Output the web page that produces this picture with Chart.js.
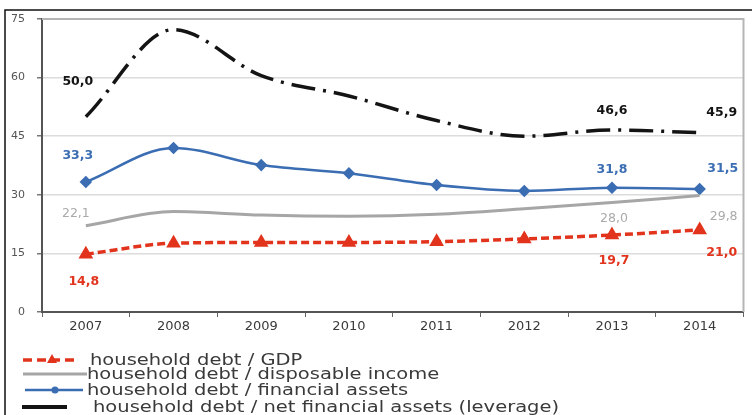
<!DOCTYPE html>
<html>
<head>
<meta charset="utf-8">
<script src="https://cdn.jsdelivr.net/npm/chart.js@4"></script>
<style>
  html, body { margin: 0; padding: 0; background: #fff; }
  #wrap { position: relative; width: 752px; height: 415px; }
</style>
</head>
<body>
<div id="wrap"><canvas id="chart" width="752" height="415"></canvas></div>
<script>
// years
const years = ["2007", "2008", "2009", "2010", "2011", "2012", "2013", "2014"];

// series values
const debtGdp = [14.8, 17.6, 17.8, 17.8, 18.0, 18.7, 19.7, 21.0];
const debtIncome = [22.1, 25.7, 24.8, 24.5, 25.0, 26.4, 28.0, 29.8];
const debtFinAssets = [33.3, 42.0, 37.6, 35.5, 32.5, 31.0, 31.8, 31.5];
const debtLeverage = [50.0, 72.3, 60.5, 55.3, 49.0, 45.0, 46.6, 45.9];

// y axis ticks
const yTicks = [0, 15, 30, 45, 60, 75];

// series names
const names = [
  "household debt / GDP",
  "household debt / disposable income",
  "household debt / financial assets",
  "household debt / net financial assets (leverage)"
];

const RED = "#e2341d";
const GRAY = "#a6a6a6";
const BLUE = "#3b6db3";
const BLACK = "#141414";

// value labels: which points, and where to put them
const valueLabels = [
  { ds: 0, color: RED, bold: true, at: [[0, -2, 28], [6, 2, 26], [7, 22, 23]] },
  { ds: 1, color: "#aaaaaa", bold: false, at: [[0, -10, -12], [6, 2, 16], [7, 24, 21]] },
  { ds: 2, color: BLUE, bold: true, at: [[0, -8, -26], [6, 0, -18], [7, 23, -20]] },
  { ds: 3, color: BLACK, bold: true, at: [[0, -8, -35], [6, 0, -19], [7, 22, -20]] }
];

// legend marker layout
const legendRows = [
  { y: 360, x0: 23, x1: 78, tx: 90, mark: 52 },
  { y: 374, x0: 23, x1: 87, tx: 87 },
  { y: 390, x0: 25, x1: 83, tx: 87, mark: 55 },
  { y: 407, x0: 22, x1: 67, tx: 93 }
];

// plugin: frame, labels, legend
const extras = {
  id: "extras",
  beforeDatasetsDraw(chart) {
    const c = chart.ctx;
    const a = chart.chartArea;
    c.save();
    c.strokeStyle = "#b5b5b5";
    c.lineWidth = 2;
    c.beginPath();
    c.moveTo(a.left, a.top);
    c.lineTo(a.right, a.top);
    c.lineTo(a.right, a.bottom);
    c.stroke();
    c.restore();
  },
  afterDraw(chart) {
    const c = chart.ctx;
    const x = chart.scales.x;
    const y = chart.scales.y;
    c.save();

    // outer frame
    c.strokeStyle = "#111";
    c.lineWidth = 1.5;
    c.beginPath();
    c.moveTo(752, 10);
    c.lineTo(5, 10);
    c.lineTo(5, 415);
    c.stroke();

    // value labels
    c.textAlign = "center";
    c.textBaseline = "middle";
    valueLabels.forEach(function (vl) {
      const data = chart.data.datasets[vl.ds].data;
      c.fillStyle = vl.color;
      c.font = (vl.bold ? "bold " : "") + "12.5px 'DejaVu Sans'";
      vl.at.forEach(function (p) {
        const v = data[p[0]];
        c.fillText(v.toFixed(1).replace(".", ","),
          x.getPixelForValue(p[0]) + p[1], y.getPixelForValue(v) + p[2]);
      });
    });

    // legend
    c.textAlign = "left";
    c.font = "15px 'DejaVu Sans'";
    chart.data.datasets.forEach(function (ds, i) {
      const r = legendRows[i];
      c.strokeStyle = ds.borderColor;
      c.lineWidth = i === 3 ? 4 : ds.borderWidth;
      c.setLineDash(i === 0 ? [9, 5] : []);
      c.beginPath();
      c.moveTo(r.x0, r.y);
      c.lineTo(r.x1, r.y);
      c.stroke();
      c.setLineDash([]);
      c.fillStyle = ds.borderColor;
      if (i === 0) {
        c.beginPath();
        c.moveTo(r.mark, r.y - 6);
        c.lineTo(r.mark + 5, r.y + 3);
        c.lineTo(r.mark - 5, r.y + 3);
        c.closePath();
        c.fill();
      }
      if (i === 2) {
        c.beginPath();
        c.arc(r.mark, r.y, 3.5, 0, Math.PI * 2);
        c.fill();
      }
      c.fillStyle = "#3a3a3a";
      c.save();
      c.translate(r.tx, r.y + 1);
      c.scale(1.3, 1);
      c.fillText(names[i], 0, 0);
      c.restore();
    });
    c.restore();
  }
};

const ctx = document.getElementById("chart");

new Chart(ctx, {
  type: "line",
  data: {
    labels: years,
    datasets: [
      {
        label: names[0],
        data: debtGdp,
        borderColor: RED,
        backgroundColor: RED,
        borderWidth: 3.5,
        borderDash: [8, 4],
        pointStyle: "triangle",
        pointRadius: 5,
        cubicInterpolationMode: "monotone"
      },
      {
        label: names[1],
        data: debtIncome,
        borderColor: GRAY,
        backgroundColor: GRAY,
        borderWidth: 3,
        pointRadius: 0,
        cubicInterpolationMode: "monotone"
      },
      {
        label: names[2],
        data: debtFinAssets,
        borderColor: BLUE,
        backgroundColor: BLUE,
        borderWidth: 2.5,
        pointStyle: "rectRot",
        pointRadius: 4.5,
        cubicInterpolationMode: "monotone"
      },
      {
        label: names[3],
        data: debtLeverage,
        borderColor: BLACK,
        backgroundColor: BLACK,
        borderWidth: 3.5,
        borderDash: [24, 8, 3, 8],
        pointRadius: 0,
        cubicInterpolationMode: "monotone"
      }
    ]
  },
  options: {
    responsive: false,
    animation: false,
    layout: { padding: { left: 5, top: 19, right: 6, bottom: 80 } },
    plugins: {
      legend: { display: false },
      tooltip: { enabled: false }
    },
    scales: {
      x: {
        offset: true,
        afterFit(s) { s.height = 23; },
        grid: { drawOnChartArea: false, tickLength: 5, color: "#666", offset: true },
        border: { color: "#555", width: 2 },
        ticks: { color: "#3a3a3a", font: { family: "DejaVu Sans", size: 13 }, padding: 2 }
      },
      y: {
        min: 0,
        max: 75,
        afterFit(s) { s.width = 37; },
        afterBuildTicks(s) { s.ticks = yTicks.map(function (v) { return { value: v }; }); },
        grid: { color: "#dcdcdc", lineWidth: 1.5, tickLength: 5, tickColor: "#777" },
        border: { color: "#555", width: 2 },
        ticks: { color: "#555", font: { family: "DejaVu Sans", size: 11 }, padding: 12 }
      }
    }
  },
  plugins: [extras]
});
</script>
</body>
</html>
